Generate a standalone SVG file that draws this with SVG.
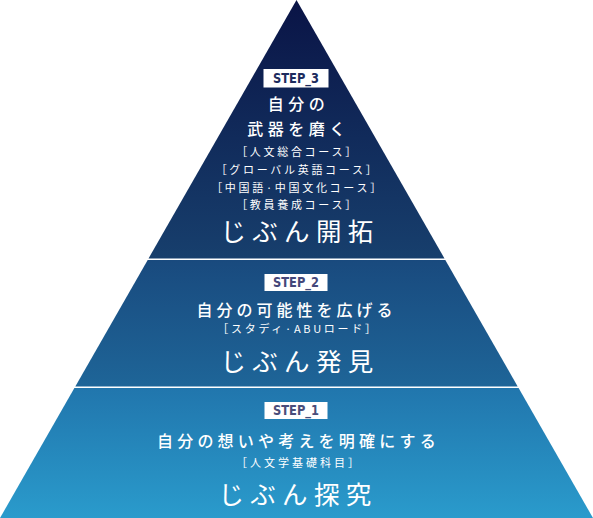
<svg xmlns="http://www.w3.org/2000/svg" width="593" height="518" viewBox="0 0 593 518">
<defs>
<linearGradient id="g" x1="0" y1="0" x2="0" y2="518" gradientUnits="userSpaceOnUse">
<stop offset="0" stop-color="#0a1446"/>
<stop offset="0.498" stop-color="#173f6d"/>
<stop offset="0.502" stop-color="#194a7e"/>
<stop offset="0.745" stop-color="#1e6598"/>
<stop offset="0.75" stop-color="#2176ad"/>
<stop offset="1" stop-color="#2a9bcc"/>
</linearGradient>
<style>
.tier{fill:url(#g)}
.box{fill:#ffffff}
.step{font-family:"DejaVu Sans Condensed","DejaVu Sans",sans-serif;font-weight:bold;font-size:14px;text-anchor:middle}
.jp{font-family:"Noto Sans CJK JP",sans-serif;fill:#ffffff;text-anchor:middle}
.lead{font-size:16px;letter-spacing:4.5px;font-weight:500}
.sub{font-size:11px;letter-spacing:2.7px}
.title{font-size:25.5px;letter-spacing:6.3px;font-weight:400}
</style>
</defs>
<rect width="593" height="518" fill="#ffffff"/>
<g id="step3">
<polygon class="tier" points="296.5,0 444.5,258.5 148.5,258.5"/>
<rect class="box" x="263.5" y="69" width="65" height="18.5"/>
<text class="step" x="296" y="83" fill="#1d2b5e" textLength="46" lengthAdjust="spacingAndGlyphs">STEP_3</text>
<text class="jp lead" x="298.5" y="110">自分の</text>
<text class="jp lead" x="298.5" y="135">武器を磨く</text>
<text class="jp sub" x="297.5" y="156">［人文総合コース］</text>
<text class="jp sub" x="297.5" y="174">［グローバル英語コース］</text>
<text class="jp sub" x="297.5" y="192">［中国語·中国文化コース］</text>
<text class="jp sub" x="297.5" y="209">［教員養成コース］</text>
<text class="jp title" x="300" y="240.5">じぶん開拓</text>
</g>
<g id="step2">
<polygon class="tier" points="147.7,260 445.3,260 517.7,386.5 75.3,386.5"/>
<rect class="box" x="264.5" y="274" width="63" height="17"/>
<text class="step" x="296" y="286.5" fill="#44477a" textLength="46" lengthAdjust="spacingAndGlyphs">STEP_2</text>
<text class="jp lead" x="296.5" y="316" style="letter-spacing:4px">自分の可能性を広げる</text>
<text class="jp sub" x="298" y="333">［スタディ·ABUロード］</text>
<text class="jp title" x="300" y="370.5">じぶん発見</text>
</g>
<g id="step1">
<polygon class="tier" points="74.4,388 518.6,388 593,518 0,518"/>
<rect class="box" x="264.5" y="402" width="63" height="17"/>
<text class="step" x="296" y="414.5" fill="#4a4d7a" textLength="46" lengthAdjust="spacingAndGlyphs">STEP_1</text>
<text class="jp lead" x="298.5" y="447" style="letter-spacing:4.2px">自分の想いや考えを明確にする</text>
<text class="jp sub" x="299" y="467" style="letter-spacing:3px">［人文学基礎科目］</text>
<text class="jp title" x="298" y="503.5">じぶん探究</text>
</g>
<g id="connectors"/>
</svg>
